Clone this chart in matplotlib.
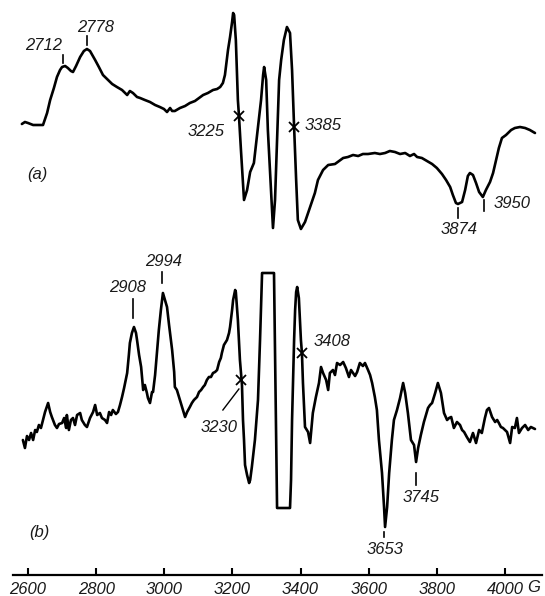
import matplotlib
matplotlib.use("Agg")
import matplotlib.pyplot as plt

# ---- data (field in gauss, signal in arbitrary units) ----
a_field = [2582,2591,2600,2615,2629,2644,2656,2665,2676,2685,2694,2700,2709,2717,2726,2732,2741,2753,2764,2773,
           2782,2797,2808,2820,2835,2847,2861,2876,2891,2899,2908,2920,2929,2943,2958,2973,2987,2999,3008,3017,
           3023,3031,3046,3061,3075,3090,3102,3114,3128,3143,3155,3164,3172,3178,3184,3187,3193,3199,3202,3205,
           3210,3216,3219,3225,3231,3234,3243,3252,3263,3275,3284,3290,3293,3299,3304,3310,3316,3319,3325,3331,
           3337,3343,3351,3360,3369,3375,3381,3387,3392,3401,3413,3428,3442,3451,3466,3481,3501,3525,3539,3554,
           3569,3583,3598,3618,3633,3648,3662,3677,3692,3707,3721,3733,3742,3756,3771,3786,3800,3815,3827,3839,
           3847,3856,3862,3874,3883,3891,3897,3906,3915,3924,3935,3944,3956,3965,3974,3982,3991,4003,4009,4018,
           4029,4044,4059,4073,4088]
a_signal = [1,3,2,0,0,0,12,25,37,48,55,58,59,57,54,53,59,68,74,76,
            74,65,58,50,45,41,38,35,30,34,32,28,27,25,23,20,18,16,13,17,
            14,14,17,19,22,24,27,30,32,35,36,38,42,50,67,75,88,103,112,110,
            85,25,10,-25,-58,-75,-65,-47,-38,-2,25,50,58,45,-5,-45,-85,-103,-75,-15,
            45,65,85,98,92,55,-2,-55,-95,-104,-97,-82,-68,-55,-45,-40,-39,-33,-32,-30,
            -31,-29,-29,-28,-29,-28,-26,-27,-29,-28,-31,-29,-32,-33,-36,-39,-43,-49,-55,-62,
            -70,-78,-79,-77,-65,-51,-48,-50,-58,-67,-72,-65,-57,-48,-35,-23,-13,-10,-8,-5,
            -3,-2,-3,-5,-8]

b_field = [2585,2591,2597,2603,2609,2615,2621,2626,2632,2638,2644,2650,2659,2665,2670,2679,2685,2691,2700,2706,
           2712,2714,2720,2726,2732,2738,2744,2753,2758,2767,2773,2782,2791,2797,2803,2811,2817,2826,2832,2838,
           2844,2849,2858,2864,2870,2876,2882,2891,2896,2899,2905,2911,2917,2920,2926,2932,2938,2943,2949,2952,
           2958,2964,2967,2973,2979,2984,2990,2996,3002,3008,3014,3023,3029,3031,3037,3046,3052,3061,3067,3075,
           3081,3087,3096,3102,3108,3114,3119,3125,3131,3137,3143,3149,3155,3161,3166,3169,3175,3184,3190,3193,
           3199,3202,3208,3210,3216,3222,3228,3231,3234,3237,3243,3249,3252,3257,3266,3275,3281,3287,3310,3322,
           3331,3348,3369,3372,3375,3378,3381,3384,3387,3390,3395,3401,3404,3407,3413,3422,3428,3436,3445,3454,
           3460,3466,3475,3481,3486,3495,3501,3507,3516,3525,3533,3542,3548,3554,3560,3566,3574,3583,3589,3598,
           3604,3610,3618,3624,3630,3639,3645,3648,3654,3660,3668,3674,3683,3692,3701,3707,3715,3724,3733,3739,
           3745,3753,3762,3768,3774,3780,3786,3795,3803,3812,3821,3830,3836,3842,3850,3859,3868,3874,3880,3888,
           3897,3906,3915,3924,3932,3941,3947,3953,3962,3971,3977,3982,3988,3994,4000,4006,4015,4021,4029,4035,
           4041,4050,4059,4068,4076,4088]
b_signal = [-10,-18,-6,-10,-3,-10,0,-2,5,2,10,18,27,18,13,5,2,6,7,12,
            2,15,0,10,12,5,15,17,10,5,3,12,18,25,15,17,12,10,7,18,
            15,20,16,18,25,33,42,57,75,87,97,103,97,90,75,63,40,45,37,32,
            27,38,38,55,80,100,120,137,130,123,105,80,58,43,40,30,23,13,18,23,
            27,30,33,38,40,43,45,50,53,53,57,58,60,68,72,77,85,90,97,103,
            120,130,140,138,110,70,45,10,-10,-35,-45,-53,-50,-37,-10,30,90,157,157,157,
            -78,-78,-78,-50,10,50,90,120,138,143,132,90,77,47,3,-2,-13,17,33,47,
            63,57,50,40,57,60,55,67,65,68,62,53,60,57,54,58,67,64,67,60,
            55,47,33,20,-10,-43,-77,-97,-77,-43,-10,10,20,32,47,37,17,-10,-15,-32,
            -18,-5,8,15,22,25,27,37,47,37,17,10,12,13,2,8,5,0,-2,-7,
            -12,-3,-13,0,-3,12,20,22,13,8,10,7,3,2,0,-2,-13,3,2,12,
            -3,2,5,0,3,1]

tick_values = [2600, 2800, 3000, 3200, 3400, 3600, 3800, 4000]
tick_labels = ["2600", "2800", "3000", "3200", "3400", "3600", "3800", "4000"]

a_offset = 450
b_offset = 145

# crossing markers (field, signal)
a_cross = [(3219, 9), (3381, -2)]
b_cross = [(3226, 50), (3404, 77)]

# peak labels: (text, text_x, text_y, tick_x, tick_y0, tick_y1)
a_labels = [("2712", 2647, 529, 2703, 520, 512),
            ("2778", 2797, 548, 2773, 539, 530),
            ("3874", 3865, 346, 3862, 367, 357),
            ("3950", 4021, 371, 3938, 375, 364)]
a_plain = [("3225", 3122, 443), ("3385", 3466, 449), ("(a)", 2626, 401)]
b_labels = [("2908", 2891, 288, 2908, 276, 257),
            ("2994", 2999, 314, 2993, 303, 292),
            ("3653", 3648, 25, 3645, 43, 38),
            ("3745", 3753, 77, 3739, 102, 90)]
b_plain = [("3230", 3161, 148), ("3408", 3492, 234), ("(b)", 2632, 43)]

# ---- figure ----
fig = plt.figure(figsize=(5.45, 5.96), dpi=100)
ax = fig.add_axes([0, 21/596, 1, 575/596])
ax.set_xlim(2517.8, 4117.4)
ax.set_ylim(0, 575)

font = dict(family="Liberation Sans", style="italic", size=12, color="#1a1a1a")

n = min(len(a_field), len(a_signal))
ax.plot(a_field[:n], [v + a_offset for v in a_signal[:n]], color="black", lw=1.9,
        solid_joinstyle="round", solid_capstyle="round")
n = min(len(b_field), len(b_signal))
ax.plot(b_field[:n], [v + b_offset for v in b_signal[:n]], color="black", lw=1.9,
        solid_joinstyle="round", solid_capstyle="round")

for gx, gy in a_cross:
    ax.plot([gx], [gy + a_offset], marker="x", ms=7, mew=1.3, color="black")
for gx, gy in b_cross:
    ax.plot([gx], [gy + b_offset], marker="x", ms=7, mew=1.3, color="black")

for txt, tx, ty, kx, k0, k1 in a_labels + b_labels:
    ax.text(tx, ty, txt, ha="center", va="center", **font)
    ax.plot([kx, kx], [k0, k1], color="black", lw=1.2)
for txt, tx, ty in a_plain + b_plain:
    ax.text(tx, ty, txt, ha="center", va="center", **font)

# leader line for 3230
ax.plot([3172, 3219], [165, 186], color="black", lw=1.0)

for s in ["top", "left", "right"]:
    ax.spines[s].set_visible(False)
ax.spines["bottom"].set_bounds(2556, 4109)
ax.spines["bottom"].set_linewidth(1.6)
ax.set_xticks(tick_values)
ax.set_xticklabels(tick_labels)
ax.tick_params(axis="x", direction="in", length=5, width=1.5, pad=5)
for lab in ax.get_xticklabels():
    lab.set_fontfamily("Liberation Sans")
    lab.set_fontstyle("italic")
    lab.set_fontsize(12)
    lab.set_color("#1a1a1a")
ax.set_yticks([])
ax.text(4083, -12, "G", ha="center", va="center", clip_on=False, **font)
ax.patch.set_alpha(0)

fig.savefig("out.png", dpi=100)
